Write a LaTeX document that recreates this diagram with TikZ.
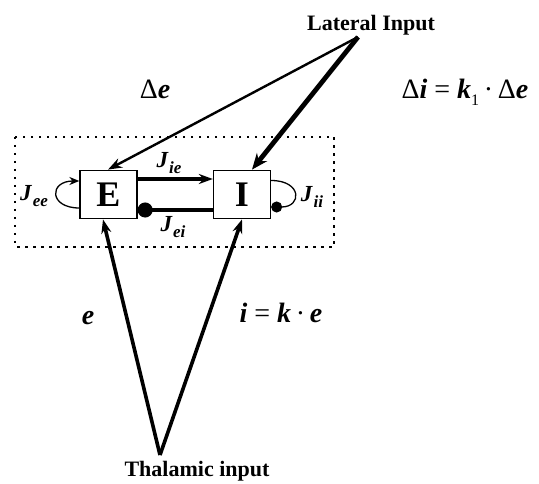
\documentclass[tikz,border=0pt]{standalone}
\usepackage{fontspec}
\setmainfont{Liberation Serif}
\usetikzlibrary{arrows.meta}
\newcommand\bi[1]{\textbf{\textit{#1}}}
\newcommand\Jlab[1]{\bi{J}\kern0.5pt\raisebox{-6pt}{\fontsize{17}{17}\selectfont\bi{#1}}}
\begin{document}
\begin{tikzpicture}[x=1pt,y=-1pt,
  unitbox/.style={draw, line width=1.3pt, fill=white, minimum width=57pt, minimum height=48.5pt, inner sep=0pt, font=\fontsize{36}{36}\selectfont\bfseries},
  title/.style={inner sep=0pt, font=\fontsize{22}{22}\selectfont\bfseries},
  eq/.style={inner sep=0pt, font=\fontsize{28}{28}\selectfont},
  jl/.style={inner sep=0pt, font=\fontsize{23}{23}\selectfont},
  arr/.style={-{Stealth[length=14pt,width=10pt]}},
  bigarr/.style={-{Stealth[length=16pt,width=13pt]}},
  dotframe/.style={line width=2.5pt, dash pattern=on 2.5pt off 5.5pt}
]
\useasboundingbox (0,0) rectangle (539,484);
\draw[dotframe] (15,137) rectangle (334,247);
\node[unitbox] (E) at (108.5,194.5) {E};
\node[unitbox] (I) at (242,194.5) {I};
\node[title] (lat) at (371,25) {Lateral Input};
\node[title] (thal) at (197,471) {Thalamic input};
\coordinate (latapex) at (358,37);
\coordinate (thapex) at (160,455);
\node[eq] (de) at (155,89) {Δ\bi{e}};
\node[eq] (di) at (465,92) {Δ\bi{i} = \bi{k}\raisebox{-7pt}{\fontsize{16}{16}\selectfont 1}\,·\,Δ\bi{e}};
\node[eq] (elab) at (88,318) {\bi{e}};
\node[eq] (ilab) at (281,313) {\bi{i} = \bi{k}\,·\,\bi{e}};
\node[jl] (Jie) at (169,163) {\Jlab{ie}};
\node[jl] (Jei) at (173,227) {\Jlab{ei}};
\node[jl] (Jee) at (34,196) {\Jlab{ee}};
\node[jl] (Jii) at (312,197) {\Jlab{ii}};
% internal connections
\draw[line width=3.2pt, arr] ([yshift=15.5pt]E.east) -- ([yshift=15.5pt]I.west);
\draw[line width=3.2pt, -{Circle[length=15pt]}] ([yshift=-15.5pt]I.west) -- ([yshift=-15.5pt]E.east);
\draw[line width=1.3pt, -{Stealth[length=10pt,width=8pt]}] ([yshift=-13.5pt]E.west) to[out=180,in=180,looseness=2.9] ([yshift=13.5pt]E.west);
\draw[line width=1.3pt, -{Circle[length=11pt]}] ([yshift=14pt]I.east) to[out=0,in=0,looseness=3.0] ([yshift=-12.5pt]I.east);
% lateral input
\draw[line width=2.4pt, arr] (latapex) -- ([xshift=-0.5pt]E.north);
\draw[line width=4.8pt, bigarr] (latapex) -- ([xshift=10pt]I.north);
% thalamic input
\draw[line width=3.6pt, arr] (thapex) -- ([xshift=-5.5pt]E.south);
\draw[line width=3.6pt, arr] (thapex) -- (I.south);
\end{tikzpicture}
\end{document}
